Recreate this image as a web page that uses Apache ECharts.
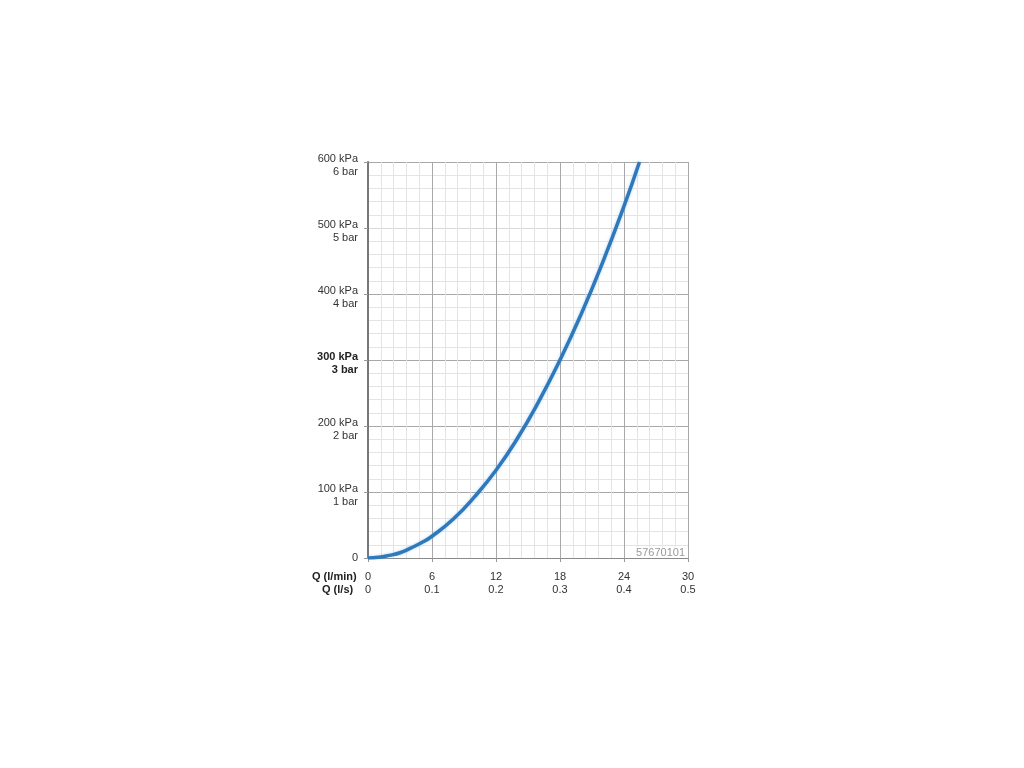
<!DOCTYPE html>
<html><head><meta charset="utf-8">
<script src="https://cdn.jsdelivr.net/npm/echarts@6/dist/echarts.min.js"></script>
<style>html,body{margin:0;padding:0;background:#fff}#c{width:1024px;height:768px}</style>
</head><body><div id="c"></div>
<script>
// Flow Q (l/min) and pressure loss (kPa)
const flowLmin = [0, 1, 2, 3, 4, 5, 6, 8, 10, 12, 14, 16, 18, 20, 22, 24, 25.45];
const pressureKPa = [0, 1, 4, 8, 15, 23, 33, 59, 93, 133, 181, 237, 300, 370, 448, 533, 600];
const xTicksLmin = [0, 6, 12, 18, 24, 30];
const xTicksLs = ['0', '0.1', '0.2', '0.3', '0.4', '0.5'];
const yTicksKPa = { 0: '0', 100: '100 kPa\n1 bar', 200: '200 kPa\n2 bar', 300: '300 kPa\n3 bar', 400: '400 kPa\n4 bar', 500: '500 kPa\n5 bar', 600: '600 kPa\n6 bar' };
const rowHeaders = ['Q (l/min)', 'Q (l/s)'];
const codeLabel = '57670101';

const chart = echarts.init(document.getElementById('c'));
chart.setOption({
  animation: false,
  backgroundColor: '#fff',
  grid: { left: 368, right: 336, top: 162, bottom: 210, show: false },
  xAxis: {
    type: 'value', min: 0, max: 30, interval: 6,
    axisLine: { show: true, lineStyle: { color: '#8a8a8a', width: 1 } },
    axisTick: { show: true, length: 4, lineStyle: { color: '#999' } },
    axisLabel: {
      margin: 12, color: '#333', fontSize: 11, lineHeight: 13, fontFamily: 'Liberation Sans, Arial, sans-serif',
      formatter: v => { const i = xTicksLmin.indexOf(v); return i < 0 ? '' : v + '\n' + xTicksLs[i]; }
    },
    splitLine: { show: true, lineStyle: { color: '#a8a8a8', width: 1 } },
    minorTick: { show: false, splitNumber: 5 },
    minorSplitLine: { show: true, lineStyle: { color: '#e4e4e4', width: 1 } }
  },
  yAxis: {
    type: 'value', min: 0, max: 600, interval: 100,
    axisLine: { show: true, lineStyle: { color: '#777', width: 2 } },
    axisTick: { show: true, length: 4, lineStyle: { color: '#999' } },
    axisLabel: {
      margin: 10, color: '#333', fontSize: 11, lineHeight: 13, align: 'right', fontFamily: 'Liberation Sans, Arial, sans-serif',
      formatter: v => {
        const t = yTicksKPa[v];
        if (v === 300) return t.split('\n').map(s => '{b|' + s + '}').join('\n');
        return v === 0 ? '{z|0}' : t;
      },
      rich: {
        b: { fontWeight: 'bold', fontSize: 11, lineHeight: 13, color: '#222', align: 'right' },
        z: { fontSize: 11, lineHeight: 13, color: '#333', padding: [-7, 0, 0, 0] }
      },
      padding: [7, 0, 0, 0]
    },
    splitLine: { show: true, lineStyle: { color: ['#a8a8a8', '#a8a8a8', '#a8a8a8', '#a8a8a8', '#a8a8a8', '#d8d8d8', '#a8a8a8'], width: 1 } },
    minorTick: { show: false, splitNumber: 5 },
    minorSplitLine: { show: true, lineStyle: { color: '#e4e4e4', width: 1 } }
  },
  series: [{
    type: 'line', smooth: true, showSymbol: false, clip: true,
    data: flowLmin.map((q, i) => [q, pressureKPa[i]]),
    lineStyle: { color: '#2f78ba', width: 3.5, shadowColor: 'rgba(120,180,240,0.6)', shadowBlur: 3 },
    z: 5
  }],
  graphic: [
    { type: 'text', left: 312, top: 571, style: { text: rowHeaders[0], font: 'bold 11px Liberation Sans, Arial, sans-serif', fill: '#222' } },
    { type: 'text', left: 322, top: 584, style: { text: rowHeaders[1], font: 'bold 11px Liberation Sans, Arial, sans-serif', fill: '#222' } },
    { type: 'text', right: 338, top: 547, z: 10, style: { text: codeLabel, font: '11px Liberation Sans, Arial, sans-serif', fill: '#9a9a9a', backgroundColor: '#fff', padding: [0, 1, 0, 2] } }
  ]
});
</script></body></html>
